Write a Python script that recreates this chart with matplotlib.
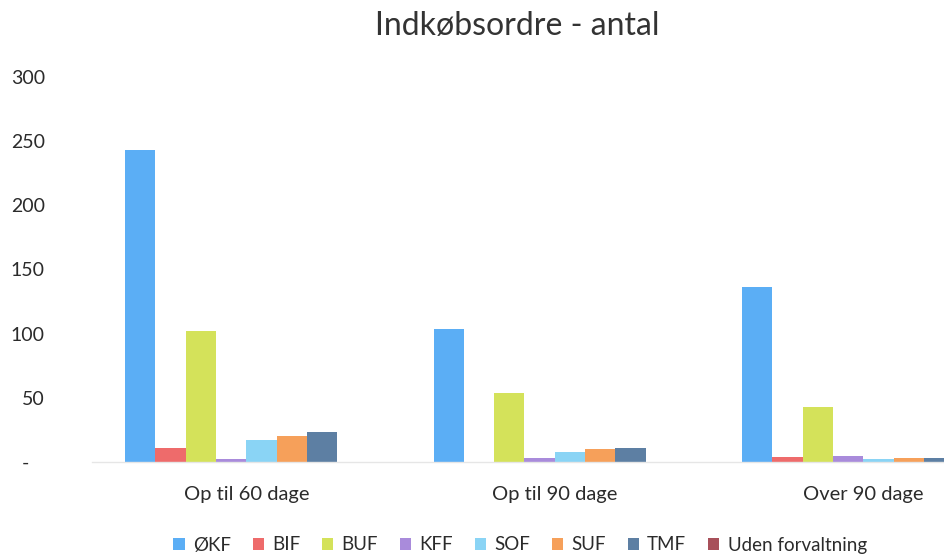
import matplotlib
matplotlib.use("Agg")
import matplotlib.pyplot as plt
import numpy as np

plt.rcParams['font.family'] = ['Lato', 'DejaVu Sans']

categories = ["Op til 60 dage", "Op til 90 dage", "Over 90 dage"]
series_names = ["ØKF", "BIF", "BUF", "KFF", "SOF", "SUF", "TMF", "Uden forvaltning"]
OKF = [243, 104, 136]
BIF = [11, 0, 4]
BUF = [102, 54, 43]
KFF = [2, 3, 5]
SOF = [17, 8, 2]
SUF = [20, 10, 3]
TMF = [23, 11, 3]
UDEN = [0, 0, 0]
series_values = [OKF, BIF, BUF, KFF, SOF, SUF, TMF, UDEN]
colors = ["#5BAEF5", "#EE6B6B", "#D4E25A", "#A98BDB", "#8AD4F5", "#F6A05A", "#5D7FA3", "#A8505A"]
yticks = [0, 50, 100, 150, 200, 250, 300]
ytick_labels = ["-   ", "50", "100", "150", "200", "250", "300"]

fig = plt.figure(figsize=(9.44, 5.6), dpi=100)
ax = fig.add_axes([92/944, 98/560, 1 - 92/944, (462-77)/560])

n = len(series_names)
w = 1.0 / (n + 2.19)
x = np.arange(len(categories))
for i, (name, vals, c) in enumerate(zip(series_names, series_values, colors)):
    ax.bar(x + (i - n/2 + 0.5) * w, vals, width=w, color=c, label=name, linewidth=0)

ax.set_xlim(-0.5, -0.5 + 852/308.5)
ax.set_ylim(0, 300)
ax.set_yticks(yticks)
ax.set_yticklabels(ytick_labels)
ax.set_xticks(x)
ax.set_xticklabels(categories)
ax.tick_params(axis='y', length=0, pad=34, labelsize=14, labelcolor="#2b2b2b")
ax.tick_params(axis='x', length=0, pad=17, labelsize=14.5, labelcolor="#2b2b2b")
for s in ["top", "right", "left"]:
    ax.spines[s].set_visible(False)
ax.spines["bottom"].set_color("#e6e6e6")
ax.spines["bottom"].set_linewidth(1)

fig.text(517/944, 1 - 26/560, "Indkøbsordre - antal", ha="center", va="center",
         fontsize=23, color="#333333")

fig.legend(loc="center", bbox_to_anchor=(520/944, 1 - 545/560), ncol=8, frameon=False,
           fontsize=13.5, handlelength=0.6, handleheight=0.6, handletextpad=0.45,
           columnspacing=1.15, labelcolor="#2b2b2b")

fig.savefig("out.png", dpi=100)
